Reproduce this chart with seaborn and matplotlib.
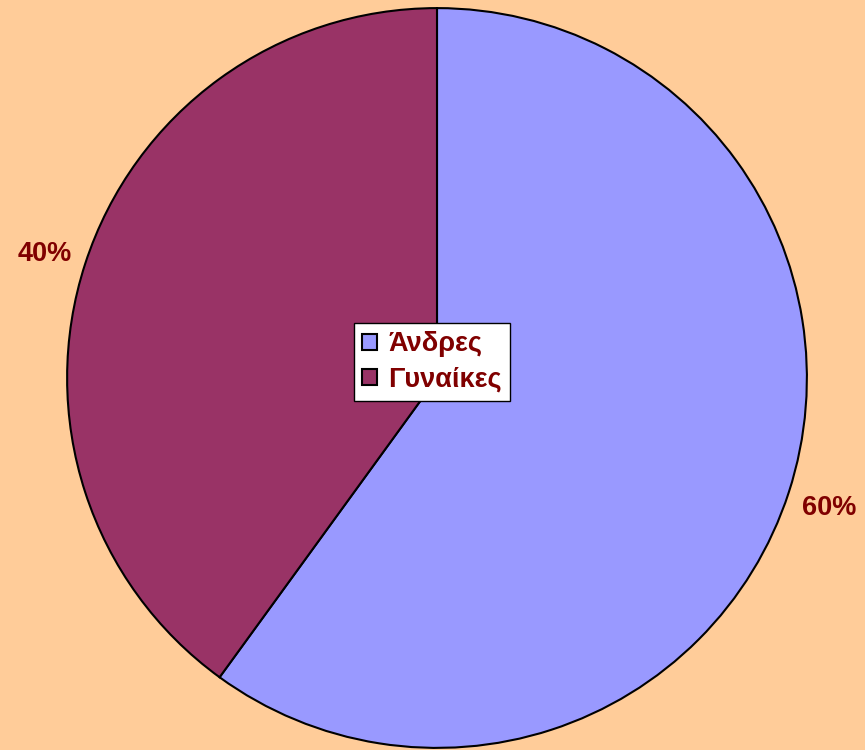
import matplotlib
matplotlib.use('Agg')
import matplotlib.pyplot as plt
import seaborn as sns

# δεδομένα
labels = ['Άνδρες', 'Γυναίκες']
shares = [60, 40]
colors = ['#9999FF', '#993366']

sns.set_style('white')
plt.rcParams['font.family'] = ['Liberation Sans', 'DejaVu Sans']

fig = plt.figure(figsize=(8.65, 7.5), dpi=100)
fig.patch.set_facecolor('#FFCC99')

# άξονας τετράγωνος σε pixel, κέντρο πίτας ~(437, 378)
ax = fig.add_axes([66 / 865, 1 / 750, 742 / 865, 742 / 750])
ax.set_facecolor('#FFCC99')

wedges, texts, autotexts = ax.pie(
    shares, colors=colors, startangle=90, counterclock=False,
    autopct='%1.0f%%', pctdistance=1.115,
    wedgeprops=dict(edgecolor='black', linewidth=1.5),
    textprops=dict(color='#800000', fontsize=19.5, fontweight='bold'),
)
for t in autotexts:
    t.set_va('center_baseline')
ax.set_xlim(-1.003, 1.003)
ax.set_ylim(-1.003, 1.003)
ax.set_aspect('auto')
ax.axis('off')

leg = fig.legend(
    wedges, labels, loc='center', bbox_to_anchor=(432 / 865, 1 - 362 / 750),
    frameon=True, fancybox=False, shadow=False, framealpha=1,
    edgecolor='black', facecolor='white', fontsize=19.5,
    handlelength=0.55, handleheight=0.55, handletextpad=0.4,
    borderpad=0.3, labelspacing=0.35,
)
leg.get_frame().set_linewidth(1.0)
for t in leg.get_texts():
    t.set_color('#800000')
    t.set_fontweight('bold')
for h in leg.legend_handles:
    h.set_linewidth(1.5)

fig.savefig('out.png', dpi=100, facecolor=fig.get_facecolor())
